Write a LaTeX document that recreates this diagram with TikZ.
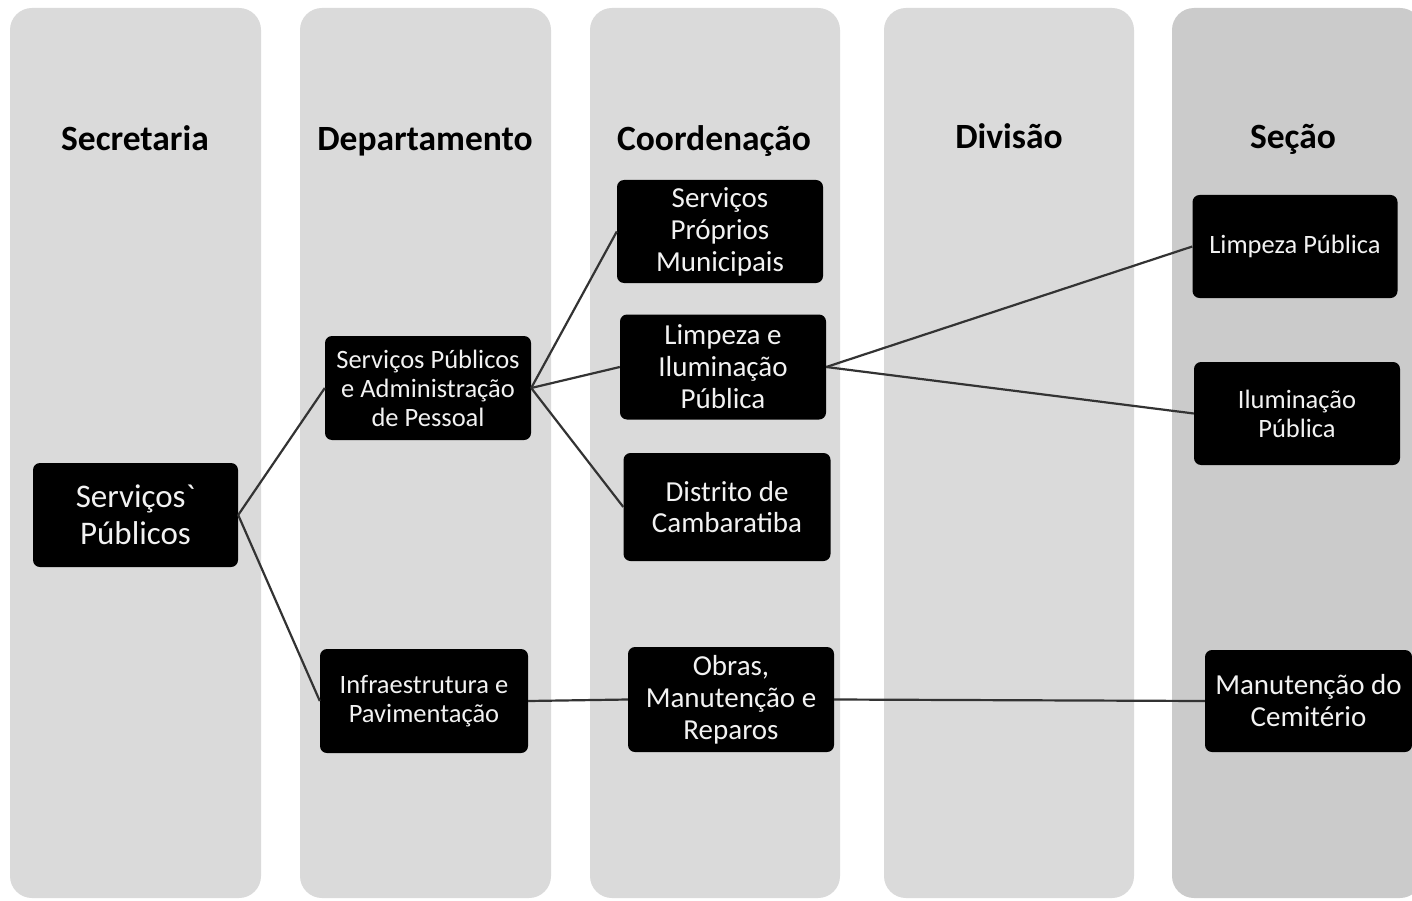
\documentclass[tikz,border=0pt]{standalone}
\usepackage{fontspec}
\setmainfont{Carlito}
\definecolor{colgray}{HTML}{DADADA}
\definecolor{colgrayB}{HTML}{CBCBCB}
\definecolor{linkgray}{HTML}{333333}
\definecolor{boxtext}{HTML}{F2F2F2}
\begin{document}
\begin{tikzpicture}[x=1pt,y=-1pt,
  colbox/.style={fill=colgray, rounded corners=22pt},
  hdr/.style={font=\fontsize{35.5}{40}\selectfont\bfseries, anchor=base, text=black},
  orgbox/.style={fill=black, rounded corners=7pt, text=boxtext, align=center, inner sep=0pt,
    font=\fontsize{29}{32}\selectfont},
  tight/.style={font=\fontsize{26.5}{29}\selectfont},
  lnk/.style={draw=linkgray, line width=2.2pt}]
\useasboundingbox (0,0) rectangle (1412,901);
\fill[white] (0,0) rectangle (1412,901);
% columns
\fill[colbox] (10,8) rectangle (261,898);
\fill[colbox] (300,8) rectangle (551,898);
\fill[colbox] (590,8) rectangle (840,898);
\fill[colbox] (884,8) rectangle (1134,898);
\fill[colbox, fill=colgrayB] (1172,8) rectangle (1422,898);
% headers
\node[hdr] (h1) at (135,151) {Secretaria};
\node[hdr] (h2) at (425,151) {Departamento};
\node[hdr] (h3) at (714,151) {Coordenação};
\node[hdr] (h4) at (1009,149) {Divisão};
\node[hdr] (h5) at (1293,149) {Seção};
% boxes
\node[orgbox, minimum width=205pt, minimum height=104pt, font=\fontsize{33}{37}\selectfont] (sp) at (135.5,515) {Serviços\textasciigrave\\Públicos};
\node[orgbox, tight, minimum width=206pt, minimum height=104pt] (spap) at (428,388) {Serviços Públicos\\e Administração\\de Pessoal};
\node[orgbox, tight, minimum width=208pt, minimum height=104pt] (infra) at (424,701) {Infraestrutura e\\Pavimentação};
\node[orgbox, minimum width=206pt, minimum height=103pt] (spm) at (720,231.5) {Serviços\\Próprios\\Municipais};
\node[orgbox, minimum width=206pt, minimum height=105pt] (lip) at (723,367) {Limpeza e\\Iluminação\\Pública};
\node[orgbox, minimum width=207pt, minimum height=108pt, font=\fontsize{29}{31}\selectfont] (dist) at (727,507) {Distrito de\\Cambaratiba};
\node[orgbox, minimum width=206pt, minimum height=105pt] (obras) at (731,699.5) {Obras,\\Manutenção e\\Reparos};
\node[orgbox, tight, minimum width=205pt, minimum height=103pt] (lpub) at (1295,246.5) {Limpeza Pública};
\node[orgbox, tight, minimum width=206pt, minimum height=103pt] (ipub) at (1297,413.5) {Iluminação\\Pública};
\node[orgbox, minimum width=207pt, minimum height=102pt] (manut) at (1308.5,701) {Manutenção do\\Cemitério};
% connectors
\draw[lnk] (sp.east) -- (spap.west);
\draw[lnk] (sp.east) -- (infra.west);
\draw[lnk] (spap.east) -- (spm.west);
\draw[lnk] (spap.east) -- (lip.west);
\draw[lnk] (spap.east) -- (dist.west);
\draw[lnk] (infra.east) -- (obras.west);
\draw[lnk] (lip.east) -- (lpub.west);
\draw[lnk] (lip.east) -- (ipub.west);
\draw[lnk] (obras.east) -- (manut.west);
\end{tikzpicture}
\end{document}
